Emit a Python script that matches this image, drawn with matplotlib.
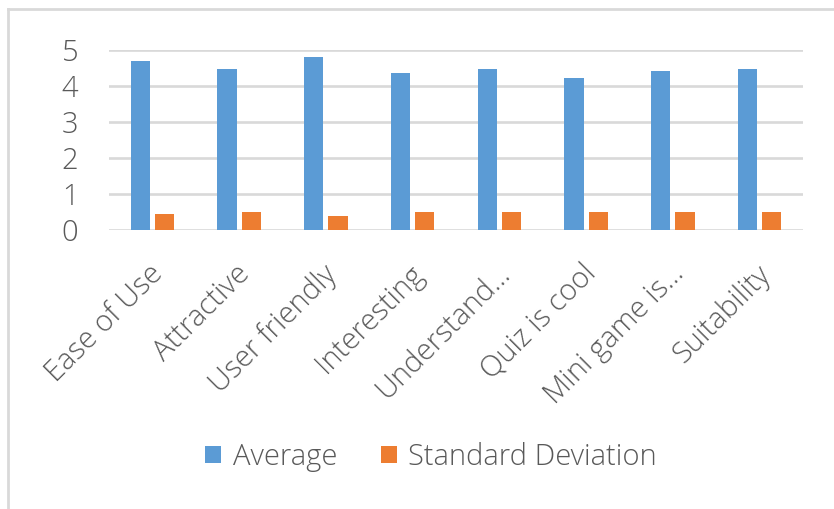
import matplotlib
matplotlib.use("Agg")
import matplotlib.pyplot as plt
import matplotlib.transforms as mtransforms
import numpy as np
from matplotlib.lines import Line2D

# ── data ─────────────────────────────────────────────────────────────────────
categories = ["Ease of Use", "Attractive", "User friendly", "Interesting",
              "Understand...", "Quiz is cool", "Mini game is...", "Suitability"]
average = [4.70, 4.46, 4.80, 4.36, 4.46, 4.21, 4.42, 4.46]
std_dev = [0.44, 0.49, 0.39, 0.49, 0.49, 0.49, 0.49, 0.49]
series_names = ["Average", "Standard Deviation"]

BLUE   = "#5B9BD5"
ORANGE = "#ED7D31"
TEXT   = "#595959"
GRID   = "#D9D9D9"
FS     = 21

plt.rcParams["font.family"] = ["Open Sans", "DejaVu Sans"]
plt.rcParams["font.weight"] = "light"

W, H = 834, 509
fig = plt.figure(figsize=(W / 100, H / 100), dpi=100)
ax = fig.add_axes([109 / W, 1 - 230 / H, 694 / W, 180 / H])

x = np.arange(len(categories))
bw = 0.22
ax.bar(x - 0.14, average, bw, color=BLUE, label=series_names[0], zorder=3)
ax.bar(x + 0.14, std_dev, bw, color=ORANGE, label=series_names[1], zorder=3)

ax.set_xlim(-0.5, len(categories) - 0.5)
ax.set_ylim(0, 5)
ax.set_yticks(range(6))
ax.yaxis.grid(True, color=GRID, lw=1.9, zorder=0)
ax.set_axisbelow(True)
for s in ax.spines.values():
    s.set_visible(False)

ax.set_xticks(x)
ax.set_xticklabels(categories, rotation=45, ha="right", va="top",
                   rotation_mode="anchor")
ax.tick_params(axis="both", length=0, labelsize=FS, colors=TEXT)
ax.tick_params(axis="x", pad=21)
ax.tick_params(axis="y", pad=22)

# nudge category labels a little to the left
shift = mtransforms.ScaledTranslation(-4 / 100, 0, fig.dpi_scale_trans)
for lbl in ax.get_xticklabels():
    lbl.set_transform(lbl.get_transform() + shift)

fig.legend(loc="center", bbox_to_anchor=(431 / W, 1 - 457 / H), ncol=2,
           frameon=False, fontsize=FS, labelcolor=TEXT, handlelength=0.55,
           handleheight=0.55, handletextpad=0.4, columnspacing=1.5)

# chart frame (cropped at right and bottom)
fig.add_artist(Line2D([8 / W, 8 / W], [0, 1 - 9 / H], color=GRID, lw=2))
fig.add_artist(Line2D([8 / W, 1], [1 - 9 / H, 1 - 9 / H], color=GRID, lw=2))

fig.savefig("out.png", dpi=100)
